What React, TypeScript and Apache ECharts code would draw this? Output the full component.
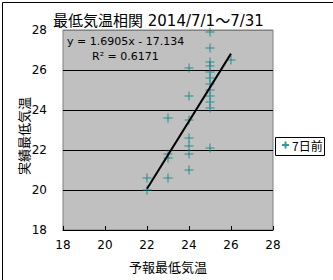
import React, { useEffect, useRef } from "react";
import * as echarts from "echarts";

const titleText = "最低気温相関 2014/7/1～7/31";
const seriesName = "7日前";
const xName = "予報最低気温";
const yName = "実績最低気温";
const equationText = "y = 1.6905x - 17.134";
const r2Text = "R² = 0.6171";

const forecastX = [
  25, 25, 25, 25, 25, 25, 25, 25, 25, 25, 25, 25,
  24, 24, 24, 24, 24, 24, 24,
  23, 23, 23, 23,
  22, 22,
  26,
];
const actualY = [
  27.9, 27.1, 26.4, 26.2, 25.9, 25.6, 25.3, 25.0, 24.7, 24.4, 24.1, 22.1,
  26.1, 24.7, 23.5, 22.6, 22.2, 21.8, 21.0,
  23.6, 21.8, 21.6, 20.6,
  20.6, 20.0,
  26.5,
];
const trendStart = [22, 20.06];
const trendEnd = [26, 26.82];
const axisTicks = [18, 20, 22, 24, 26, 28];

const plusPath = "path://M0,5L10,5M5,0L5,10";
const teal = "#008080";
const font = "'DejaVu Sans', 'Noto Sans CJK JP', sans-serif";
const cjk = "'Noto Sans CJK JP', sans-serif";

export default function App() {
  const ref = useRef<HTMLDivElement>(null);
  useEffect(() => {
    if (!ref.current) return;
    const chart = echarts.init(ref.current, undefined, { renderer: "svg" });
    const points = forecastX.map((x, i) => [x, actualY[i]]);
    chart.setOption({
      animation: false,
      backgroundColor: "#ffffff",
      textStyle: { fontFamily: font },
      grid: {
        left: 63,
        right: 60,
        top: 30,
        bottom: 50,
        show: true,
        backgroundColor: "#C0C0C0",
        borderColor: "#808080",
        borderWidth: 1,
      },
      legend: {
        data: [{ name: seriesName, icon: plusPath }],
        left: 281,
        top: 139,
        orient: "vertical",
        borderWidth: 0,
        padding: 0,
        itemWidth: 7,
        itemHeight: 7,
        textStyle: { fontSize: 12, color: "#000", fontFamily: cjk, padding: [0, 0, 0, -2] },
      },
      xAxis: {
        type: "value",
        min: axisTicks[0],
        max: axisTicks[axisTicks.length - 1],
        interval: 2,
        name: xName,
        nameLocation: "middle",
        nameGap: 30,
        nameTextStyle: { fontSize: 13, color: "#000", fontFamily: cjk },
        axisLine: { show: true, lineStyle: { color: "#000", width: 1 } },
        axisTick: { show: true, inside: true, length: 4, lineStyle: { color: "#000" } },
        axisLabel: { fontSize: 12, color: "#000", margin: 9, fontFamily: font },
        splitLine: { show: false },
      },
      yAxis: {
        type: "value",
        min: axisTicks[0],
        max: axisTicks[axisTicks.length - 1],
        interval: 2,
        axisLine: { show: false },
        axisTick: { show: false },
        axisLabel: { fontSize: 12, color: "#000", margin: 16, fontFamily: font },
        splitLine: {
          show: true,
          lineStyle: { color: ["#808080", "#000", "#000", "#000", "#000", "#808080"], width: 1 },
        },
      },
      series: [
        {
          name: seriesName,
          type: "scatter",
          data: points,
          symbol: plusPath,
          symbolSize: 9,
          itemStyle: { color: "transparent", borderColor: teal, borderWidth: 1 },
          z: 3,
        },
        {
          name: "trend",
          type: "line",
          data: [trendStart, trendEnd],
          symbol: "none",
          lineStyle: { color: "#000", width: 2 },
          z: 4,
          silent: true,
        },
      ],
      graphic: [
        {
          type: "rect",
          left: 0,
          top: 0,
          shape: { x: 0.5, y: 0.5, width: 332, height: 279 },
          style: { fill: "none", stroke: "#000", lineWidth: 1 },
          silent: true,
        },
        {
          type: "rect",
          shape: { x: 275.5, y: 137.5, width: 49, height: 18 },
          style: { fill: "none", stroke: "#000", lineWidth: 1 },
          silent: true,
        },
        {
          type: "text",
          x: 23,
          y: 136,
          rotation: Math.PI / 2,
          style: {
            text: yName,
            fontSize: 13,
            fill: "#000",
            fontFamily: cjk,
            align: "center",
            verticalAlign: "middle",
          },
        },
        {
          type: "text",
          x: 53,
          y: 21,
          style: {
            text: titleText,
            fontSize: 15,
            fill: "#000",
            fontFamily: font,
            verticalAlign: "middle",
            align: "left",
          },
        },
        {
          type: "text",
          x: 67,
          y: 41,
          style: { text: equationText, fontSize: 11, fill: "#000", fontFamily: font, verticalAlign: "middle" },
        },
        {
          type: "text",
          x: 92,
          y: 56,
          style: { text: r2Text, fontSize: 11, fill: "#000", fontFamily: font, verticalAlign: "middle" },
        },
      ],
    });
    return () => chart.dispose();
  }, []);
  return <div ref={ref} style={{ width: 333, height: 280, position: "absolute", left: 0, top: 0 }} />;
}
